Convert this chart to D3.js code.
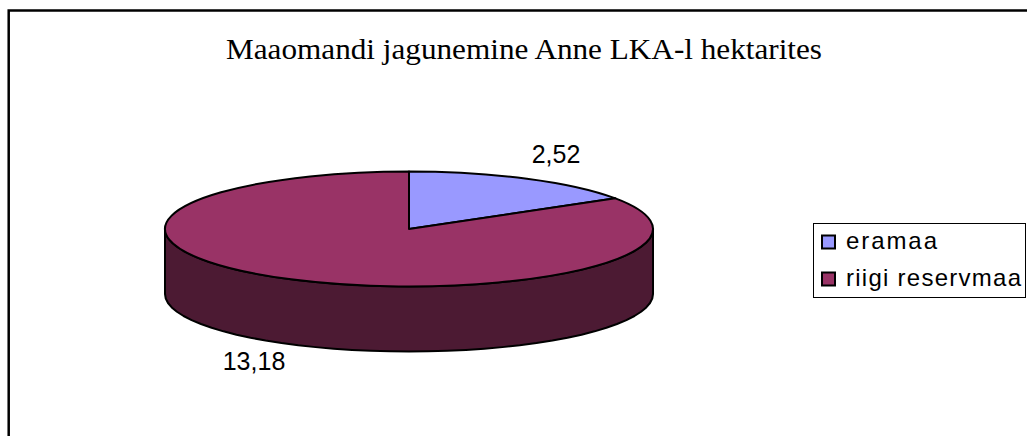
<!DOCTYPE html>
<html><head><meta charset="utf-8">
<script src="https://cdn.jsdelivr.net/npm/d3@7"></script>
<style>html,body{margin:0;padding:0;background:#fff;overflow:hidden}svg{display:block}</style>
</head><body><svg id="c" width="1027" height="436"></svg>
<script>
const titleText = "Maaomandi jagunemine Anne LKA-l hektarites";
const categories = ["eramaa", "riigi reservmaa"];
const values = [2.52, 13.18];
const valueLabels = ["2,52", "13,18"];
const colors = ["#9999ff", "#993366"];
const sideColor = "#4c1a33";

const svg = d3.select("#c");
const W = 1027, H = 436;
svg.append("rect").attr("width", W).attr("height", H).attr("fill", "#fff");
svg.append("path").attr("d", `M8.7 ${H}V10.5H${W}`).attr("fill", "none").attr("stroke", "#000").attr("stroke-width", 2.5);

svg.append("text").attr("x", 524).attr("y", 59).attr("text-anchor", "middle")
  .attr("font-family", "'Liberation Serif'").attr("font-size", 29).attr("fill", "#000")
  .attr("textLength", 596).attr("lengthAdjust", "spacingAndGlyphs").text(titleText);

const cx = 409, cy = 229, rx = 244, ry = 57.5, depth = 65;
const arcs = d3.pie().sort(null).value(d => d)(values);
const px = d3.scaleLinear().domain([0, 1]).range([cx, cx + rx]);
const py = d3.scaleLinear().domain([0, 1]).range([cy, cy + ry]);
const ptX = a => px(Math.sin(a)), ptY = a => py(-Math.cos(a));

// side wall: visible front half of the rim
const frontAngles = d3.range(Math.PI / 2, 3 * Math.PI / 2 + 1e-6, Math.PI / 40);
const line = d3.line();
const lower = frontAngles.map(a => [ptX(a), ptY(a) + depth]);
const upper = frontAngles.map(a => [ptX(a), ptY(a)]).reverse();
svg.append("path").attr("d", line(lower.concat(upper)) + "Z")
  .attr("fill", sideColor).attr("stroke", "#000").attr("stroke-width", 2).attr("stroke-linejoin", "round");

// top face: d3.arc scaled through an elliptical transform
const arc = d3.arc().innerRadius(0).outerRadius(rx);
svg.append("g").attr("transform", `translate(${cx},${cy}) scale(1,${ry / rx})`)
  .selectAll("path").data(arcs).join("path")
  .attr("d", arc).attr("fill", (d, i) => colors[i])
  .attr("stroke", "#000").attr("stroke-width", 2).attr("vector-effect", "non-scaling-stroke").attr("stroke-linejoin", "round");

const labelFont = "'Liberation Sans'";
const labelPos = [[556, 163], [254, 370]];
svg.append("g").selectAll("text").data(valueLabels).join("text")
  .attr("x", (d, i) => labelPos[i][0]).attr("y", (d, i) => labelPos[i][1])
  .attr("text-anchor", "middle").attr("font-family", labelFont).attr("font-size", 25).attr("fill", "#000").text(d => d);

// legend
const lg = svg.append("g");
lg.append("rect").attr("x", 813.5).attr("y", 223.5).attr("width", 212).attr("height", 74)
  .attr("fill", "#fff").attr("stroke", "#000").attr("stroke-width", 1);
const ly = d3.scalePoint().domain(categories).range([242, 279]);
const items = lg.selectAll("g").data(categories).join("g");
items.append("rect").attr("x", 822).attr("y", d => ly(d) - 6.5).attr("width", 13).attr("height", 13)
  .attr("fill", (d, i) => colors[i]).attr("stroke", "#000").attr("stroke-width", 2);
items.append("text").attr("x", 846).attr("y", d => ly(d) + 6.5)
  .attr("font-family", labelFont).attr("font-size", 24).attr("fill", "#000")
  .attr("textLength", (d, i) => i === 0 ? 91 : 175).attr("lengthAdjust", "spacing").text(d => d);
</script></body></html>
